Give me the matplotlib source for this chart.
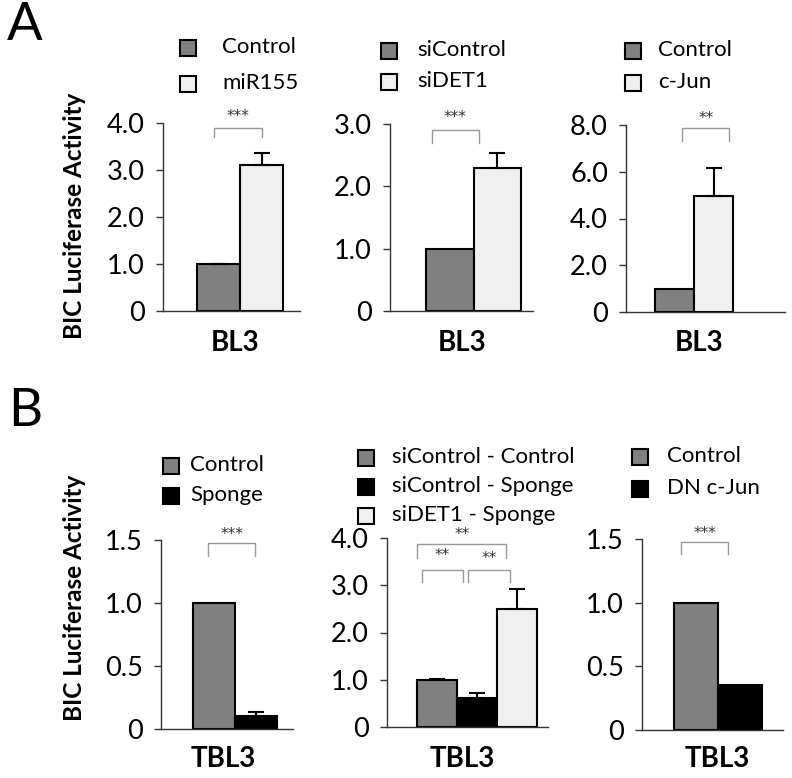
import matplotlib
matplotlib.use('Agg')
import matplotlib.pyplot as plt
from matplotlib.patches import Rectangle
from matplotlib.transforms import blended_transform_factory

plt.rcParams['font.family'] = ['Lato', 'DejaVu Sans']

W, H = 792, 778
GRAY = '#808080'
LIGHT = '#f0f0f0'
BLACK = '#000000'

# panel A data
a1_names = ['Control', 'miR155']
a1_vals = [1.0, 3.1]
a1_err = [0.01, 0.27]
a2_names = ['siControl', 'siDET1']
a2_vals = [1.0, 2.3]
a2_err = [0.0, 0.24]
a3_names = ['Control', 'c-Jun']
a3_vals = [1.0, 4.95]
a3_err = [0.0, 1.2]

# panel B data
b1_names = ['Control', 'Sponge']
b1_vals = [1.0, 0.1]
b1_err = [0.0, 0.035]
b2_names = ['siControl - Control', 'siControl - Sponge', 'siDET1 - Sponge']
b2_vals = [1.0, 0.62, 2.5]
b2_err = [0.01, 0.1, 0.42]
b3_names = ['Control', 'DN c-Jun']
b3_vals = [1.0, 0.35]
b3_err = [0.0, 0.0]

ticks_4 = [0, 1, 2, 3, 4]
labels_4 = ['0', '1.0', '2.0', '3.0', '4.0']
ticks_3 = [0, 1, 2, 3]
labels_3 = ['0', '1.0', '2.0', '3.0']
ticks_8 = [0, 2, 4, 6, 8]
labels_8 = ['0', '2.0', '4.0', '6.0', '8.0']
ticks_15 = [0, 0.5, 1.0, 1.5]
labels_15 = ['0', '0.5', '1.0', '1.5']


def fx(x):
    return x / W


def fy(y):
    return 1 - y / H


fig = plt.figure(figsize=(W / 100, H / 100), dpi=100)


def panel(box, bar_left, bar_w, names, vals, err, colors, ticks, tlabels,
          brackets, legend, xlabel, xlabel_pos):
    x0, y0, x1, y1 = box
    ax = fig.add_axes([fx(x0), fy(y1), (x1 - x0) / W, (y1 - y0) / H])
    xs = list(range(len(vals)))
    ax.bar(xs, vals, width=1.0, color=colors, edgecolor='black', linewidth=1.5, zorder=2)
    for x, v, e in zip(xs, vals, err):
        if e > 0:
            ax.errorbar(x, v, yerr=[[0], [e]], fmt='none', ecolor='black',
                        elinewidth=1.5, capsize=5.5, capthick=1.5, zorder=3)
    left = -0.5 - (bar_left - x0) / bar_w
    ax.set_xlim(left, left + (x1 - x0) / bar_w)
    ax.set_ylim(0, ticks[-1])
    ax.set_yticks(ticks)
    ax.set_yticklabels(tlabels, fontsize=19.5)
    ax.set_xticks([])
    for s in ['top', 'right']:
        ax.spines[s].set_visible(False)
    for s in ['left', 'bottom']:
        ax.spines[s].set_color('#333333')
        ax.spines[s].set_linewidth(1.0)
    ax.tick_params(axis='y', length=5, width=1.0, color='#333333', pad=8)

    tr = blended_transform_factory(ax.transData, ax.transAxes)
    for xa, xb, top, leg, lab, lab_y, lab_x in brackets:
        ax.plot([xa, xa, xb, xb], [leg, top, top, leg], color='#999999', lw=1.0,
                transform=tr, clip_on=False)
        ax.text(lab_x, lab_y, lab, transform=tr, ha='center', va='center',
                fontsize=11, color='#333333', family='DejaVu Sans')

    sq_x, sq_top, txt_x, pitch = legend
    for i, (n, c) in enumerate(zip(names, colors)):
        top = sq_top + i * pitch
        fig.patches.append(Rectangle((fx(sq_x), fy(top + 16)), 16 / W, 16 / H,
                                     transform=fig.transFigure, facecolor=c,
                                     edgecolor='black', linewidth=1.5))
        fig.text(fx(txt_x), fy(top + 7), n, fontsize=16, ha='left', va='center')

    fig.text(fx(xlabel_pos[0]), fy(xlabel_pos[1]), xlabel, fontsize=20,
             fontweight='bold', ha='center', va='center')
    return ax


panel((163, 123, 300, 311), 197, 43, a1_names, a1_vals, a1_err, [GRAY, LIGHT],
      ticks_4, labels_4, [(-0.1, 1.0, 0.973, 0.926, '***', 1.035, 0.45)],
      (180, 40, 222, 36), 'BL3', (235, 343))
panel((390, 124, 533, 311), 426, 47.5, a2_names, a2_vals, a2_err, [GRAY, LIGHT],
      ticks_3, labels_3, [(-0.37, 0.62, 0.968, 0.9, '***', 1.035, 0.12)],
      (381, 43, 417, 31), 'BL3', (462, 343))
panel((626, 125, 785, 312), 655, 39, a3_names, a3_vals, a3_err, [GRAY, LIGHT],
      ticks_8, labels_8, [(0.19, 1.4, 0.984, 0.914, '**', 1.035, 0.8)],
      (625, 43, 658, 32), 'BL3', (699, 343))

panel((161, 540, 293, 729), 193, 42, b1_names, b1_vals, b1_err, [GRAY, BLACK],
      ticks_15, labels_15, [(-0.14, 0.98, 0.984, 0.915, '***', 1.03, 0.42)],
      (163, 458, 190, 30), 'TBL3', (223, 759))
panel((387, 538, 548, 727), 417, 40, b2_names, b2_vals, b2_err, [GRAY, BLACK, LIGHT],
      ticks_4, labels_4,
      [(-0.5, 1.725, 0.968, 0.894, '**', 1.02, 0.62),
       (-0.375, 0.65, 0.831, 0.767, '**', 0.91, 0.13),
       (0.775, 1.825, 0.831, 0.767, '**', 0.89, 1.3)],
      (358, 450, 392, 29), 'TBL3', (462, 759))
panel((642, 539, 783, 730), 674, 44, b3_names, b3_vals, b3_err, [GRAY, BLACK],
      ticks_15, labels_15, [(-0.34, 0.73, 0.984, 0.92, '***', 1.03, 0.2)],
      (632, 449, 667, 32), 'TBL3', (717, 759))

fig.text(fx(75), fy(216), 'BIC Luciferase Activity', rotation=90, fontsize=17.5,
         fontweight='bold', ha='center', va='center')
fig.text(fx(75), fy(598), 'BIC Luciferase Activity', rotation=90, fontsize=17.5,
         fontweight='bold', ha='center', va='center')
fig.text(fx(25), fy(26), 'A', fontsize=38, ha='center', va='center')
fig.text(fx(25), fy(412), 'B', fontsize=38, ha='center', va='center')

fig.savefig('out.png', dpi=100)
